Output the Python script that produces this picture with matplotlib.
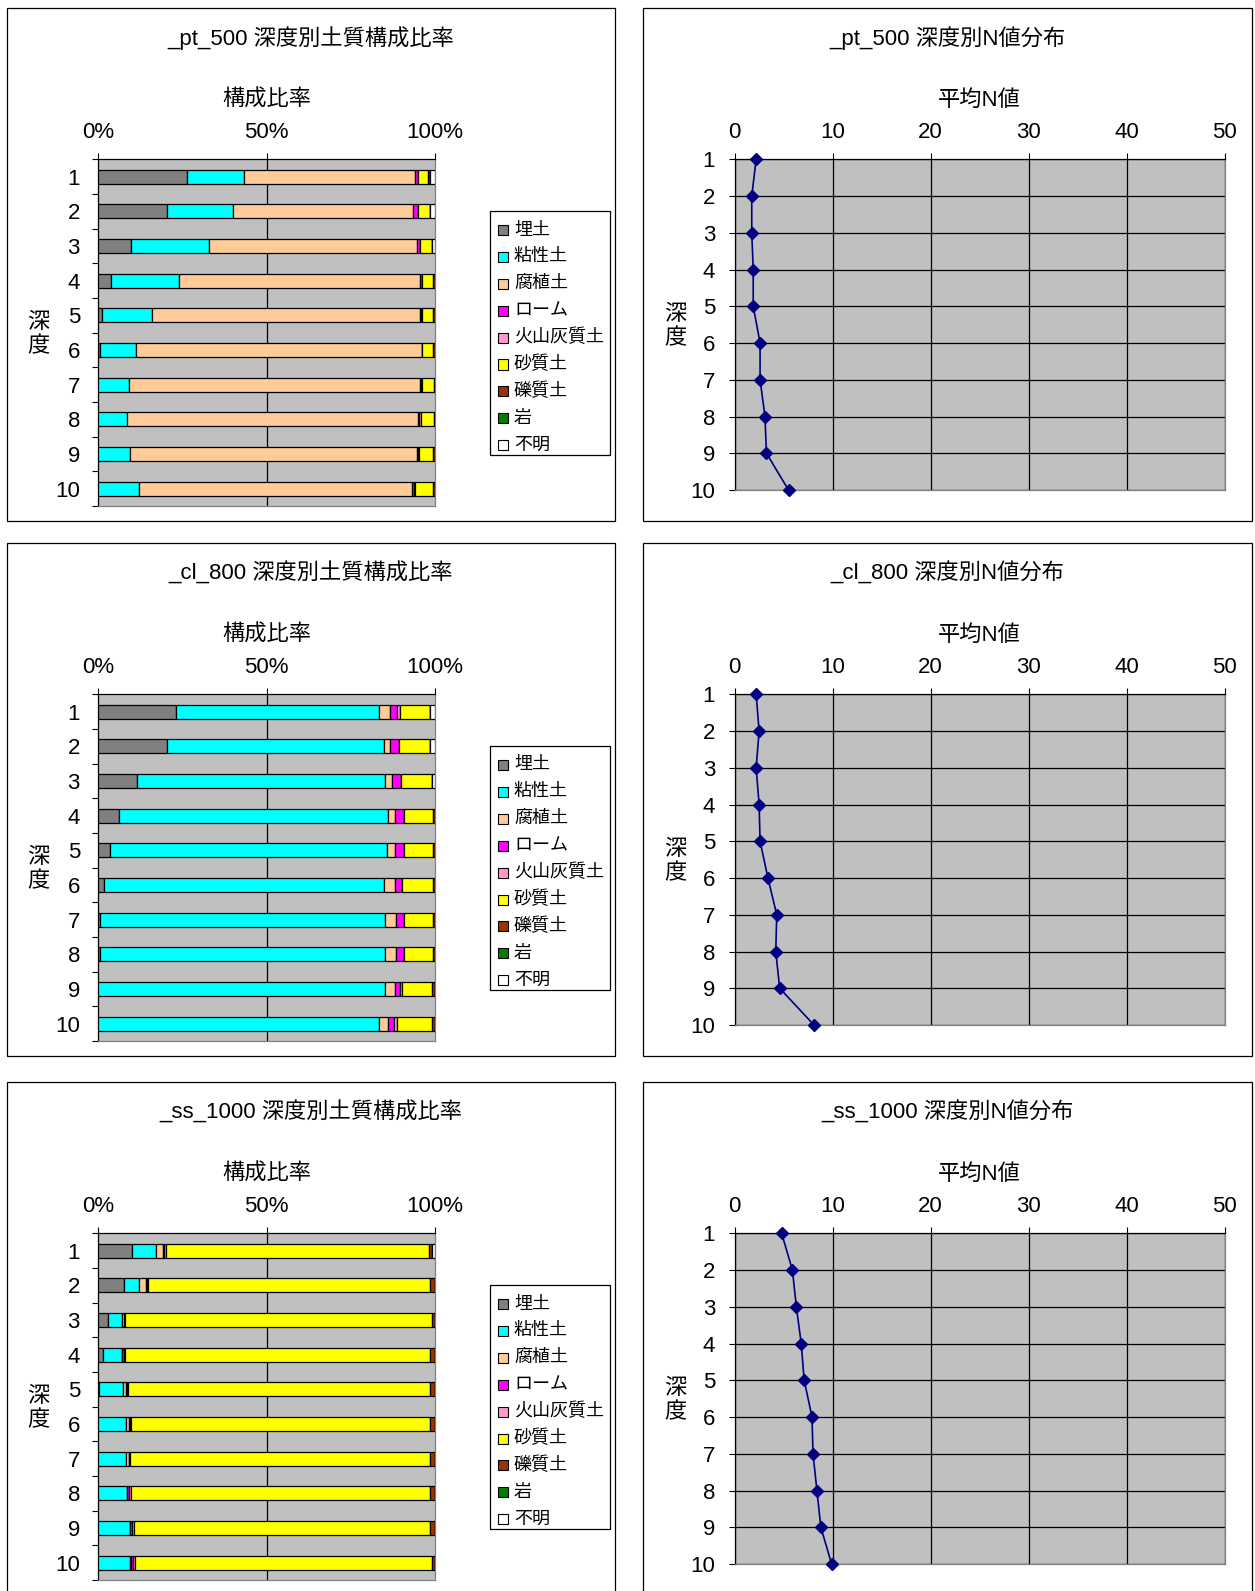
import matplotlib
matplotlib.use("Agg")
import matplotlib.pyplot as plt
from matplotlib import font_manager
from matplotlib.patches import Rectangle

# soil classes in stacking order, with the usual spreadsheet palette
soil_names = ["埋土", "粘性土", "腐植土", "ローム", "火山灰質土", "砂質土", "礫質土", "岩", "不明"]
soil_colors = ["#808080", "#00FFFF", "#FFCC99", "#FF00FF", "#FF99CC",
               "#FFFF00", "#993300", "#008000", "#FFFFFF"]

depths = [1, 2, 3, 4, 5, 6, 7, 8, 9, 10]

# composition ratio (%) per depth, columns follow soil_names
pt500_ratio = [
    [26.3, 16.9, 50.9, 0.8, 0.0, 3.0, 0.5, 0.0, 1.6],
    [20.4, 19.8, 53.4, 1.4, 0.0, 3.6, 0.0, 0.0, 1.4],
    [9.7, 23.2, 61.8, 0.8, 0.0, 3.5, 0.0, 0.0, 1.0],
    [4.0, 20.1, 71.4, 0.7, 0.0, 3.3, 0.5, 0.0, 0.0],
    [1.3, 14.6, 79.6, 0.3, 0.2, 3.5, 0.5, 0.0, 0.0],
    [0.5, 10.9, 84.6, 0.0, 0.0, 3.5, 0.5, 0.0, 0.0],
    [0.0, 9.1, 86.4, 0.3, 0.3, 3.7, 0.2, 0.0, 0.0],
    [0.0, 8.7, 86.4, 0.3, 0.3, 4.1, 0.2, 0.0, 0.0],
    [0.0, 9.6, 85.0, 0.3, 0.3, 4.3, 0.5, 0.0, 0.0],
    [0.0, 12.3, 81.0, 0.4, 0.3, 5.5, 0.5, 0.0, 0.0],
]
cl800_ratio = [
    [23.2, 60.2, 3.2, 2.2, 0.8, 9.0, 0.0, 0.0, 1.4],
    [20.5, 64.3, 1.8, 2.8, 0.0, 9.2, 0.0, 0.0, 1.4],
    [11.6, 73.7, 1.9, 2.6, 0.0, 9.4, 0.0, 0.0, 0.8],
    [6.3, 79.9, 1.8, 2.7, 0.0, 8.8, 0.5, 0.0, 0.0],
    [3.5, 82.3, 2.2, 2.7, 0.0, 8.8, 0.5, 0.0, 0.0],
    [1.8, 83.0, 3.2, 2.2, 0.0, 9.3, 0.5, 0.0, 0.0],
    [0.5, 84.8, 3.1, 2.3, 0.0, 8.8, 0.5, 0.0, 0.0],
    [0.5, 84.8, 3.1, 2.3, 0.0, 8.8, 0.5, 0.0, 0.0],
    [0.0, 85.3, 2.7, 1.6, 0.7, 8.7, 1.0, 0.0, 0.0],
    [0.0, 83.4, 2.7, 1.7, 0.8, 10.4, 1.0, 0.0, 0.0],
]
ss1000_ratio = [
    [10.1, 7.2, 1.9, 0.5, 0.4, 78.0, 1.1, 0.0, 0.8],
    [7.8, 4.5, 1.8, 0.4, 0.4, 83.6, 1.5, 0.0, 0.0],
    [3.0, 4.0, 0.6, 0.3, 0.2, 90.9, 1.0, 0.0, 0.0],
    [1.6, 5.4, 0.0, 0.6, 0.5, 90.4, 1.5, 0.0, 0.0],
    [0.4, 7.1, 0.9, 0.3, 0.2, 89.6, 1.5, 0.0, 0.0],
    [0.0, 8.3, 0.8, 0.4, 0.4, 88.6, 1.5, 0.0, 0.0],
    [0.0, 8.3, 0.8, 0.2, 0.1, 89.1, 1.5, 0.0, 0.0],
    [0.0, 8.7, 0.0, 0.6, 0.6, 88.6, 1.5, 0.0, 0.0],
    [0.0, 9.5, 0.0, 0.7, 0.6, 87.7, 1.5, 0.0, 0.0],
    [0.0, 9.5, 0.4, 0.5, 0.5, 88.1, 1.0, 0.0, 0.0],
]

# mean N value per depth
pt500_n = [2.2, 1.75, 1.75, 1.9, 1.9, 2.6, 2.6, 3.1, 3.25, 5.5]
cl800_n = [2.2, 2.5, 2.2, 2.5, 2.6, 3.4, 4.3, 4.2, 4.6, 8.1]
ss1000_n = [4.8, 5.9, 6.3, 6.8, 7.1, 7.9, 8.0, 8.4, 8.8, 9.9]

sites = ["_pt_500", "_cl_800", "_ss_1000"]
ratios = [pt500_ratio, cl800_ratio, ss1000_ratio]
n_values = [pt500_n, cl800_n, ss1000_n]
pct_ticks = [0, 50, 100]
pct_labels = ["0%", "50%", "100%"]
n_ticks = [0, 10, 20, 30, 40, 50]

installed = {f.name for f in font_manager.fontManager.ttflist}
latin = "Liberation Sans Narrow" if "Liberation Sans Narrow" in installed else "Liberation Sans"
FONT = [latin, "Noto Sans CJK JP", "DejaVu Sans"]
plt.rcParams["font.family"] = FONT

W, H = 1255, 1591
fig = plt.figure(figsize=(W / 100, H / 100), dpi=100)


def rect(l, t, r, b):
    return [l / W, 1 - b / H, (r - l) / W, (b - t) / H]


def fxy(x, y):
    return x / W, 1 - y / H


def box(l, t, r, b):
    fig.add_artist(Rectangle((l / W, 1 - b / H), (r - l) / W, (b - t) / H,
                             transform=fig.transFigure, fill=False,
                             edgecolor="black", linewidth=0.9))


BAR_L, BAR_R = 98, 435
N_L, N_R = 734.6, 1224.6
row_tops = [8, 543, 1082]

for site, ratio, nv, top in zip(sites, ratios, n_values, row_tops):
    # ---- composition panel ----
    box(7, top, 615, top + 513)
    fig.text(*fxy(311, top + 30.5), f"{site} 深度別土質構成比率", ha="center", va="center", fontsize=16)
    fig.text(*fxy(266.5, top + 92), "構成比率", ha="center", va="center", fontsize=16)
    fig.text(*fxy(38.5, top + 327), "深\n度", ha="center", va="center", fontsize=16, linespacing=1.2)

    ax = fig.add_axes(rect(BAR_L, top + 151.3, BAR_R, top + 498))
    ax.set_facecolor("#C0C0C0")
    left = [0.0] * len(depths)
    for k, (name, color) in enumerate(zip(soil_names, soil_colors)):
        widths = [row[k] for row in ratio]
        ax.barh(depths, widths, left=left, height=0.4, color=color,
                edgecolor="black", linewidth=0.9, zorder=3)
        left = [a + b for a, b in zip(left, widths)]
    ax.axvline(50, color="black", linewidth=0.9, zorder=1)
    ax.set_xlim(0, 100)
    ax.set_ylim(10.5, 0.5)
    ax.xaxis.tick_top()
    ax.set_xticks(pct_ticks)
    ax.set_xticklabels(pct_labels)
    ax.tick_params(axis="x", labelsize=16, length=4, width=0.8, pad=8)
    ax.set_yticks(depths)
    ax.set_yticklabels([str(d) for d in depths])
    ax.set_yticks([d + 0.5 for d in [0] + depths], minor=True)
    ax.tick_params(axis="y", which="major", labelsize=16, length=0, pad=13)
    ax.tick_params(axis="y", which="minor", length=4, width=0.8)
    for s in ("left", "top"):
        ax.spines[s].set_color("black")
    for s in ("right", "bottom"):
        ax.spines[s].set_color("#808080")
    for s in ax.spines.values():
        s.set_linewidth(0.9)

    # legend drawn as a framed list of swatches
    lt = top + 203
    box(490, lt, 610, lt + 244)
    for i, (name, color) in enumerate(zip(soil_names, soil_colors)):
        cy = lt + 19 + i * 26.9
        fig.add_artist(Rectangle((498 / W, 1 - (cy + 5) / H), 10 / W, 10 / H,
                                 transform=fig.transFigure, facecolor=color,
                                 edgecolor="black", linewidth=0.8))
        fig.text(*fxy(514, cy), name, ha="left", va="center", fontsize=13)

    # ---- N value panel ----
    box(643, top, 1252, top + 513)
    fig.text(*fxy(947.5, top + 30.5), f"{site} 深度別N値分布", ha="center", va="center", fontsize=16)
    fig.text(*fxy(979.6, top + 92), "平均N値", ha="center", va="center", fontsize=16)
    fig.text(*fxy(675, top + 319), "深\n度", ha="center", va="center", fontsize=16, linespacing=1.2)

    ax2 = fig.add_axes(rect(N_L, top + 151.3, N_R, top + 482))
    ax2.set_facecolor("#C0C0C0")
    ax2.set_xlim(0, 50)
    ax2.set_ylim(10, 1)
    ax2.xaxis.tick_top()
    ax2.set_xticks(n_ticks)
    ax2.set_yticks(depths)
    ax2.grid(True, color="black", linewidth=0.9, zorder=1)
    ax2.set_axisbelow(True)
    ax2.plot(nv, depths, color="#000080", linewidth=1.2, marker="D",
             markersize=6.5, markerfacecolor="#000080", markeredgecolor="#000080",
             clip_on=False, zorder=4)
    ax2.tick_params(axis="x", labelsize=16, length=4, width=0.8, pad=8)
    ax2.tick_params(axis="y", labelsize=16, length=4, width=0.8, pad=10)
    for s in ("left", "top"):
        ax2.spines[s].set_color("black")
    for s in ("right", "bottom"):
        ax2.spines[s].set_color("#808080")
    for s in ax2.spines.values():
        s.set_linewidth(0.9)

fig.savefig("out.png", dpi=100, facecolor="white")
